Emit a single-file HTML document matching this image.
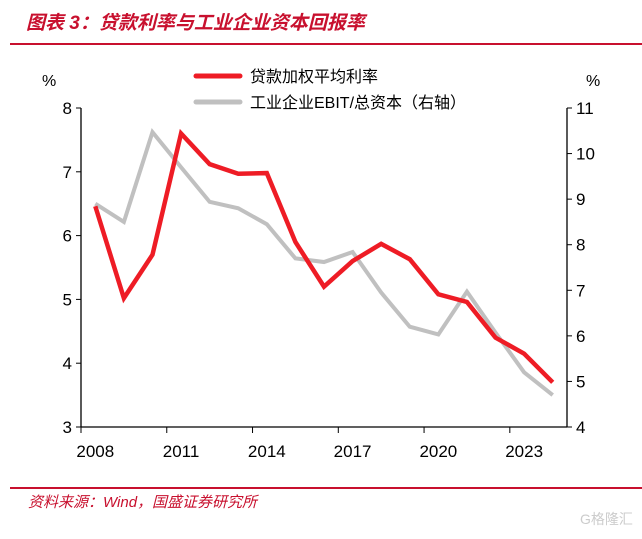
<!DOCTYPE html>
<html><head><meta charset="utf-8"><style>
body{margin:0;width:642px;height:534px;background:#fff;overflow:hidden;font-family:"Liberation Sans","Noto Sans CJK SC",sans-serif;}
</style></head><body>
<svg width="642" height="534" xmlns="http://www.w3.org/2000/svg" id="c">
<text x="26" y="29" font-size="19" font-weight="bold" font-style="italic" fill="#c8102e" font-family="'Liberation Sans','Noto Sans CJK SC',sans-serif">图表 3：贷款利率与工业企业资本回报率</text>
<line x1="10" y1="44" x2="642" y2="44" stroke="#c8102e" stroke-width="2"/>
<line x1="10" y1="488" x2="642" y2="488" stroke="#c8102e" stroke-width="2"/>
<text x="28" y="507" font-size="15" font-style="italic" fill="#c8102e">资料来源：Wind，国盛证券研究所</text>
<text x="580" y="524" font-size="14" fill="#ccc">G格隆汇</text>
<text x="42" y="86" font-size="16">%</text>
<text x="586" y="86" font-size="16">%</text>
<line x1="196" y1="76" x2="240" y2="76" stroke="#ee1c25" stroke-width="5" stroke-linecap="round"/>
<text x="250" y="82" font-size="16">贷款加权平均利率</text>
<line x1="196" y1="102" x2="240" y2="102" stroke="#c0c0c0" stroke-width="5" stroke-linecap="round"/>
<text x="250" y="108" font-size="16">工业企业EBIT/总资本（右轴）</text>
<g id="axes"></g>
<g id="series"></g>
</svg>
<script>
const years=['2008','2009','2010','2011','2012','2013','2014','2015','2016','2017','2018','2019','2020','2021','2022','2023','2024'];
const xTickLabels=['2008','2011','2014','2017','2020','2023'];
const loanRate=[6.46,5.02,5.7,7.6,7.12,6.97,6.98,5.9,5.2,5.6,5.87,5.63,5.08,4.96,4.4,4.15,3.7];
const ebitRatio=[8.9,8.5,10.47,9.7,8.94,8.8,8.45,7.7,7.62,7.84,6.95,6.2,6.03,6.97,6.07,5.2,4.7];
const leftTicks=[3,4,5,6,7,8];
const rightTicks=[4,5,6,7,8,9,10,11];
const NS='http://www.w3.org/2000/svg';
const X0=81,X1=567,Y0=427,Y1=108;
const step=(X1-X0)/years.length;
const x=i=>X0+step*(i+0.5);
const yL=v=>Y0-(v-3)/(8-3)*(Y0-Y1);
const yR=v=>Y0-(v-4)/(11-4)*(Y0-Y1);
function mk(t,a,p){const e=document.createElementNS(NS,t);for(const k in a)e.setAttribute(k,a[k]);p.appendChild(e);return e;}
const ax=document.getElementById('axes');
let e=mk('line',{x1:X0,y1:Y1,x2:X0,y2:Y0,stroke:'#000','stroke-width':1.3},ax);


e=mk('line',{x1:X1,y1:Y1,x2:X1,y2:Y0,stroke:'#000','stroke-width':1.3},ax);


e=mk('line',{x1:X0,y1:Y0,x2:X1,y2:Y0,stroke:'#000','stroke-width':1.3},ax);


leftTicks.forEach(v=>{
 mk('line',{x1:X0-5,y1:yL(v),x2:X0,y2:yL(v),stroke:'#000'},ax);
 const t=mk('text',{x:X0-9,y:yL(v)+6,'font-size':17,'text-anchor':'end'},ax);t.textContent=v;
 
 
});
rightTicks.forEach(v=>{
 mk('line',{x1:X1,y1:yR(v),x2:X1+5,y2:yR(v),stroke:'#000'},ax);
 const t=mk('text',{x:X1+9,y:yR(v)+6,'font-size':17},ax);t.textContent=v;
 
 
});
xTickLabels.forEach(l=>{
 const i=years.indexOf(l);const tx=X0+step*i;
 mk('line',{x1:tx,y1:Y0,x2:tx,y2:Y0+6,stroke:'#000'},ax);
 const t=mk('text',{x:x(i),y:Y0+30,'font-size':17,'text-anchor':'middle'},ax);t.textContent=l;
 
 
});
const sg=document.getElementById('series');
e=mk('polyline',{points:ebitRatio.map((v,i)=>x(i)+','+yR(v)).join(' '),fill:'none',stroke:'#c0c0c0','stroke-width':4,'stroke-linejoin':'miter'},sg);


e=mk('polyline',{points:loanRate.map((v,i)=>x(i)+','+yL(v)).join(' '),fill:'none',stroke:'#ee1c25','stroke-width':4.5,'stroke-linejoin':'miter'},sg);


</script>
</body></html>
